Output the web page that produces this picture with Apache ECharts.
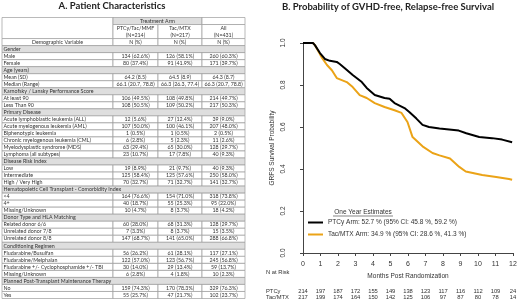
<!DOCTYPE html>
<html><head><meta charset="utf-8">
<script src="https://cdn.jsdelivr.net/npm/echarts@6/dist/echarts.min.js"></script>
<style>html,body{margin:0;padding:0;background:#fff}#c{width:520px;height:303px}</style>
</head><body><div id="c"></div>
<script>
// ---------- Panel B data (Kaplan-Meier curves) ----------
const ptcyMonths = [0, 0.57, 0.68, 0.97, 1.25, 1.54, 1.93, 2.1, 2.39, 2.84, 3.36, 3.64, 4.1, 4.66, 4.95, 5.23, 5.8, 6.09, 6.48, 6.83, 7.2, 7.8, 8.9, 9.33, 10.07, 10.8, 11.38, 11.95];
const ptcySurv   = [1.0, 1.0, 0.99, 0.952, 0.924, 0.915, 0.91, 0.9, 0.88, 0.848, 0.814, 0.786, 0.752, 0.738, 0.735, 0.714, 0.69, 0.67, 0.64, 0.61, 0.6, 0.593, 0.583, 0.57, 0.552, 0.547, 0.54, 0.527];
const tacMonths  = [0, 0.57, 0.68, 1.08, 1.37, 1.65, 1.93, 2.5, 2.84, 3.24, 3.64, 4.1, 4.66, 5.23, 5.63, 5.97, 6.26, 6.83, 7.4, 7.8, 8.4, 8.93, 9.3, 10.24, 11.04, 11.77, 11.95];
const tacSurv    = [1.0, 1.0, 0.99, 0.93, 0.895, 0.87, 0.833, 0.814, 0.79, 0.752, 0.738, 0.714, 0.695, 0.68, 0.667, 0.624, 0.552, 0.508, 0.476, 0.465, 0.45, 0.41, 0.388, 0.371, 0.362, 0.352, 0.349];
const ptcyEstimate = ['52.7', '45.8', '59.2'];
const tacEstimate  = ['34.9', '28.6', '41.3'];
const monthTicks = [0,1,2,3,4,5,6,7,8,9,10,11,12];
const ptcyAtRisk = [214, 197, 187, 172, 155, 149, 138, 123, 117, 116, 112, 109, 24];
const tacAtRisk  = [217, 199, 174, 164, 150, 142, 125, 106, 97, 87, 80, 78, 14];

// ---------- Panel A data (table) ----------
const headerArm = 'Treatment Arm';
const armNames = ['PTCy/Tac/MMF', 'Tac/MTX', 'All'];
const armN = ['(N=214)', '(N=217)', '(N=431)'];
const headerVar = 'Demographic Variable';
const unitLabel = 'N (%)';
const rowLabels = [
 'Gender','Male','Female',
 'Age (years)','Mean (SD)','Median (Range)',
 'Karnofsky / Lansky Performance Score','At least 90','Less Than 90',
 'Primary Disease','Acute lymphoblastic leukemia (ALL)','Acute myelogenous leukemia (AML)','Biphenotypic leukemia','Chronic myelogenous leukemia (CML)','Myelodysplastic syndrome (MDS)','Lymphoma (all subtypes)',
 'Disease Risk Index','Low','Intermediate','High / Very High',
 'Hematopoietic Cell Transplant - Comorbidity Index','<4','4+','Missing/Unknown',
 'Donor Type and HLA Matching','Related donor 6/6','Unrelated donor 7/8','Unrelated donor 8/8',
 'Conditioning Regimen','Fludarabine/Busulfan','Fludarabine/Melphalan','Fludarabine +/- Cyclophosphamide +/- TBI','Missing/Unknown',
 'Planned Post-Transplant Maintenance Therapy','No','Yes'
];
const ptcyCol = [null,'134 (62.6%)','80 (37.4%)', null,'64.2 (8.5)','66.1 (20.7, 78.8)', null,'106 (49.5%)','108 (50.5%)', null,'12 (5.6%)','107 (50.0%)','1 (0.5%)','6 (2.8%)','63 (29.4%)','23 (10.7%)', null,'19 (8.9%)','125 (58.4%)','70 (32.7%)', null,'164 (76.6%)','40 (18.7%)','10 (4.7%)', null,'60 (28.0%)','7 (3.3%)','147 (68.7%)', null,'56 (26.2%)','122 (57.0%)','30 (14.0%)','6 (2.8%)', null,'159 (74.3%)','55 (25.7%)'];
const tacCol  = [null,'126 (58.1%)','91 (41.9%)', null,'64.5 (8.9)','66.3 (26.3, 77.4)', null,'108 (49.8%)','109 (50.2%)', null,'27 (12.4%)','100 (46.1%)','1 (0.5%)','5 (2.3%)','65 (30.0%)','17 (7.8%)', null,'21 (9.7%)','125 (57.6%)','71 (32.7%)', null,'154 (71.0%)','55 (25.3%)','8 (3.7%)', null,'68 (31.3%)','8 (3.7%)','141 (65.0%)', null,'61 (28.1%)','123 (56.7%)','29 (13.4%)','4 (1.8%)', null,'170 (78.3%)','47 (21.7%)'];
const allCol  = [null,'260 (60.3%)','171 (39.7%)', null,'64.3 (8.7)','66.3 (20.7, 78.8)', null,'214 (49.7%)','217 (50.3%)', null,'39 (9.0%)','207 (48.0%)','2 (0.5%)','11 (2.6%)','128 (29.7%)','40 (9.3%)', null,'40 (9.3%)','250 (58.0%)','141 (32.7%)', null,'318 (73.8%)','95 (22.0%)','18 (4.2%)', null,'128 (29.7%)','15 (3.5%)','288 (66.8%)', null,'117 (27.1%)','245 (56.8%)','59 (13.7%)','10 (2.3%)', null,'329 (76.3%)','102 (23.7%)'];

// ---------- layout / style ----------
const TABLE_FONT = 'Lato';
const TABLE_FS = 5.3;
const PLOT_FONT = 'Liberation Sans';
const BLACK = '#000000';
const ORANGE = '#EBA317';
const colEdges = [0, 111, 156, 200, 243];
const HEADER_ROWS = 4;
const tableRows = Array.from({length: HEADER_ROWS + rowLabels.length}, (_, i) => String(i));
const bodyCols = [ptcyCol, tacCol, allCol];

const ptcyName = `PTCy Arm: ${ptcyEstimate[0]} % (95% CI: ${ptcyEstimate[1]} %, ${ptcyEstimate[2]} %)`;
const tacName  = `Tac/MTX Arm: ${tacEstimate[0]} % (95% CI: ${tacEstimate[1]} %, ${tacEstimate[2]} %)`;

function renderTableRow(params, api) {
  const r = api.value(1);
  const yc = api.coord([0, r])[1];
  const h = api.size([0, 1])[1];
  const top = yc - h / 2;
  const xs = colEdges.map(e => api.coord([e, r])[0]);
  const kids = [];
  const rect = (x0, x1, y0, hh, fill) => ({type: 'rect', shape: {x: x0, y: y0, width: x1 - x0, height: hh},
     style: {fill: fill || '#ffffff', stroke: '#9c9c9c', lineWidth: 0.7}});
  const txt = (s, x, y, align) => ({type: 'text', x: x, y: y,
     style: {text: s, fill: '#333333', fontSize: TABLE_FS, fontFamily: TABLE_FONT, align: align, verticalAlign: 'middle'}});
  const mid = c => (xs[c] + xs[c + 1]) / 2;
  if (r === 0) {
    kids.push(rect(xs[0], xs[1], top, 3 * h));
    kids.push(rect(xs[1], xs[3], top, h, '#dedede'));
    kids.push(txt(headerArm, (xs[1] + xs[3]) / 2, yc, 'center'));
    kids.push(rect(xs[3], xs[4], top, h));
  } else if (r === 1) {
    for (let c = 0; c < 3; c++) {
      kids.push(rect(xs[c + 1], xs[c + 2], top, 2 * h));
      kids.push(txt(armNames[c], mid(c + 1), yc, 'center'));
      kids.push(txt(armN[c], mid(c + 1), yc + h, 'center'));
    }
  } else if (r === 3) {
    kids.push(rect(xs[0], xs[1], top, h));
    kids.push(txt(headerVar, mid(0), yc, 'center'));
    for (let c = 0; c < 3; c++) {
      kids.push(rect(xs[c + 1], xs[c + 2], top, h));
      kids.push(txt(unitLabel, mid(c + 1), yc, 'center'));
    }
  } else if (r >= HEADER_ROWS) {
    const b = r - HEADER_ROWS;
    if (ptcyCol[b] == null) {
      kids.push(rect(xs[0], xs[4], top, h, '#dedede'));
      kids.push(txt(rowLabels[b], xs[0] + 1.5, yc, 'left'));
    } else {
      kids.push(rect(xs[0], xs[1], top, h));
      kids.push(txt(rowLabels[b], xs[0] + 1.5, yc, 'left'));
      for (let c = 0; c < 3; c++) {
        kids.push(rect(xs[c + 1], xs[c + 2], top, h));
        kids.push(txt(bodyCols[c][b], mid(c + 1), yc, 'center'));
      }
    }
  }
  return {type: 'group', children: kids};
}

const axisGrey = '#444444';
const option = {
  animation: false,
  backgroundColor: '#ffffff',
  title: [
    {text: 'A. Patient Characteristics', left: 112, top: 1, textAlign: 'center', padding: 0,
     textStyle: {fontFamily: 'Lato', fontWeight: 'bold', fontSize: 9.5, color: '#222222'}},
    {text: 'B. Probability of GVHD-free, Relapse-free Survival', left: 388, top: 2, textAlign: 'center', padding: 0,
     textStyle: {fontFamily: 'Lato', fontWeight: 'bold', fontSize: 9.5, color: '#222222'}}
  ],
  legend: {
    left: 308, top: 219, orient: 'vertical', padding: 0, itemWidth: 15, itemHeight: 2, itemGap: 5, icon: 'rect',
    data: [ptcyName, tacName], selectedMode: false,
    textStyle: {fontFamily: PLOT_FONT, fontSize: 6.5, color: '#333333'}
  },
  grid: [
    {left: 303, top: 43, width: 210, height: 210},
    {left: 2, top: 17.5, width: 243, height: 281}
  ],
  xAxis: [
    {gridIndex: 0, type: 'value', position: 'bottom', min: 0, max: 12, interval: 1, offset: 2,
     axisLine: {show: true, lineStyle: {color: axisGrey, width: 1}},
     axisTick: {show: true, length: 3, lineStyle: {color: axisGrey}},
     axisLabel: {fontFamily: PLOT_FONT, fontSize: 7, color: '#333333', margin: 6, formatter: v => String(monthTicks[Math.round(v)])},
     splitLine: {show: false},
     name: 'Months Post Randomization', nameLocation: 'middle', nameGap: 15,
     nameTextStyle: {fontFamily: PLOT_FONT, fontSize: 6.5, color: '#333333'}},
    {gridIndex: 0, type: 'value', position: 'bottom', min: 0, max: 12, interval: 1, offset: 38,
     axisLine: {show: false}, axisTick: {show: false}, splitLine: {show: false},
     axisLabel: {margin: 0, verticalAlign: 'middle', fontFamily: PLOT_FONT, fontSize: 5.8, color: '#333333',
       formatter: v => String(ptcyAtRisk[Math.round(v)])},
     name: 'PTCy', nameLocation: 'start', nameGap: 37,
     nameTextStyle: {align: 'left', verticalAlign: 'middle', fontFamily: PLOT_FONT, fontSize: 5.8, color: '#333333'}},
    {gridIndex: 0, type: 'value', position: 'bottom', min: 0, max: 12, interval: 1, offset: 44,
     axisLine: {show: false}, axisTick: {show: false}, splitLine: {show: false},
     axisLabel: {margin: 0, verticalAlign: 'middle', fontFamily: PLOT_FONT, fontSize: 5.8, color: '#333333',
       formatter: v => String(tacAtRisk[Math.round(v)])},
     name: 'Tac/MTX', nameLocation: 'start', nameGap: 37,
     nameTextStyle: {align: 'left', verticalAlign: 'middle', fontFamily: PLOT_FONT, fontSize: 5.8, color: '#333333'}},
    {gridIndex: 1, type: 'value', min: 0, max: colEdges[colEdges.length - 1], show: false}
  ],
  yAxis: [
    {gridIndex: 0, type: 'value', position: 'left', min: 0, max: 1, interval: 0.2, offset: 7,
     axisLine: {show: true, lineStyle: {color: axisGrey, width: 1}},
     axisTick: {show: true, length: 3, lineStyle: {color: axisGrey}},
     axisLabel: {rotate: 90, fontFamily: PLOT_FONT, fontSize: 6.5, color: '#333333', margin: 9, formatter: v => v.toFixed(1)},
     splitLine: {show: false},
     name: 'GRFS Survival Probability', nameLocation: 'middle', nameGap: 20,
     nameTextStyle: {fontFamily: PLOT_FONT, fontSize: 6.5, color: '#333333'}},
    {gridIndex: 1, type: 'category', data: tableRows, inverse: true, show: false}
  ],
  graphic: [
    {type: 'text', x: 363, y: 212, style: {text: 'One Year Estimates', fontFamily: PLOT_FONT, fontSize: 6.5, fill: '#333333', align: 'center', verticalAlign: 'middle'}},
    {type: 'line', shape: {x1: 333, y1: 216, x2: 393, y2: 216}, style: {stroke: '#333333', lineWidth: 0.6}},
    {type: 'text', x: 266, y: 272, style: {text: 'N at Risk', fontFamily: PLOT_FONT, fontSize: 5.8, fill: '#333333', align: 'left', verticalAlign: 'middle'}}
  ],
  series: [
    {name: tacName, type: 'line', xAxisIndex: 0, yAxisIndex: 0, showSymbol: false, symbol: 'none',
     lineStyle: {color: ORANGE, width: 2}, itemStyle: {color: ORANGE},
     data: tacMonths.map((m, i) => [m, tacSurv[i]])},
    {name: ptcyName, type: 'line', xAxisIndex: 0, yAxisIndex: 0, showSymbol: false, symbol: 'none',
     lineStyle: {color: BLACK, width: 2}, itemStyle: {color: BLACK},
     data: ptcyMonths.map((m, i) => [m, ptcySurv[i]])},
    {type: 'custom', xAxisIndex: 3, yAxisIndex: 1, silent: true, clip: false,
     data: tableRows.map((_, i) => [0, i]), encode: {x: 0, y: 1},
     renderItem: renderTableRow}
  ]
};
const chart = echarts.init(document.getElementById('c'), null, {renderer: 'canvas'});
chart.setOption(option);
</script></body></html>
